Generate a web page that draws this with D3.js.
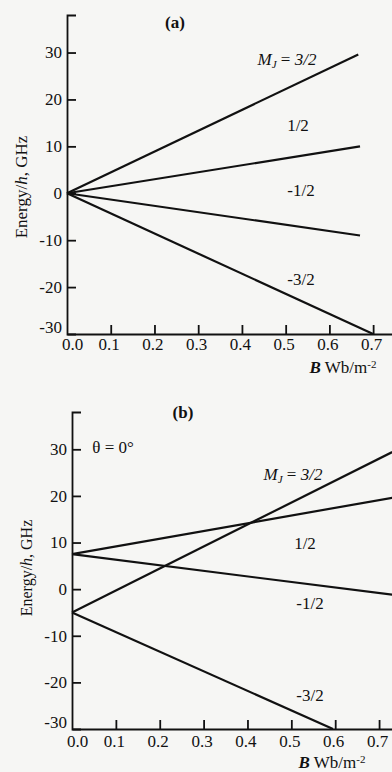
<!DOCTYPE html>
<html>
<head>
<meta charset="utf-8">
<title>Zeeman levels</title>
<style>
  body { margin: 0; background: #f6f6f4; }
  svg { display: block; }
  .axis path, .axis line { stroke: #111; stroke-width: 1.8; }
  .axis text { font-family: "Liberation Serif", serif; font-size: 17px; fill: #111; }
  .lbl { font-family: "Liberation Serif", serif; fill: #111; }
  .level { fill: none; stroke: #111; stroke-width: 2.2; }
</style>
</head>
<body>
<div id="chart"></div>
<script src="https://d3js.org/d3.v7.min.js"></script>
<script>
// tick values
var bTicks = [0.0, 0.1, 0.2, 0.3, 0.4, 0.5, 0.6, 0.7];
var eTicks = [30, 20, 10, 0, -10, -20, -30];
var mjNames = ["3/2", "1/2", "-1/2", "-3/2"];

// panel (a): energy levels, [B, E] end points per M_J
var levelsA = [
  [[0, 0], [0.666, 29.6]],
  [[0, 0], [0.67, 10]],
  [[0, 0], [0.67, -9]],
  [[0, 0], [0.7, -30]]
];

// panel (b): theta = 0
var levelsB = [
  [[0, -5], [0.73, 29.4]],
  [[0, 7.5], [0.73, 19.6]],
  [[0, 7.5], [0.73, -1.2]],
  [[0, -5], [0.595, -30]]
];

var W = 392, H = 772;
var svg = d3.select("#chart").append("svg")
    .attr("width", W).attr("height", H);

function panel(levels, x0, xEnd, yTop, yBot, opts) {
    var x = d3.scaleLinear().domain([0, 0.75]).range([x0, xEnd]);
    var y = d3.scaleLinear().domain([-30, 38]).range([yBot, yTop]);
    var g = svg.append("g");

    g.append("g").attr("class", "axis")
        .attr("transform", "translate(" + x0 + ",0)")
        .call(d3.axisLeft(y).tickValues(eTicks).tickSizeInner(-9).tickSizeOuter(-9).tickPadding(5)
            .tickFormat(d => String(d)))
        .attr("font-family", "Liberation Serif").attr("font-size", 17)
        .call(a => {
            var bot = a.selectAll(".tick").filter(d => d == -30);
            bot.select("line").remove();
            bot.select("text").attr("y", -7);
        });

    g.append("g").attr("class", "axis")
        .attr("transform", "translate(0," + yBot + ")")
        .call(d3.axisBottom(x).tickValues(bTicks).tickSizeInner(-9).tickSizeOuter(0).tickPadding(opts.xpad)
            .tickFormat(d3.format(".1f")))
        .attr("font-family", "Liberation Serif").attr("font-size", 17)
        .call(a => {
            var first = a.selectAll(".tick").filter(d => d == 0);
            first.select("line").remove();
            first.select("text").attr("x", 5);
            a.selectAll(".tick").filter(d => d > 0).select("text").attr("x", -2);
        });

    var line = d3.line().x(d => x(d[0])).y(d => y(d[1]));
    g.selectAll("path.level").data(levels).join("path")
        .attr("class", "level")
        .attr("d", line);

    // y label
    var yl = g.append("text").attr("class", "lbl")
        .attr("transform", "translate(" + opts.ylab[0] + "," + opts.ylab[1] + ") rotate(-90)")
        .attr("text-anchor", "middle").attr("dominant-baseline", "central")
        .style("font-size", opts.ylab[2] + "px");
    yl.append("tspan").text("Energy/");
    yl.append("tspan").style("font-style", "italic").text("h");
    yl.append("tspan").text(", GHz");

    // x label
    var xl = g.append("text").attr("class", "lbl")
        .attr("x", opts.xlab[0]).attr("y", opts.xlab[1])
        .attr("text-anchor", "middle")
        .style("font-size", "17px");
    xl.append("tspan").style("font-style", "italic").style("font-weight", "bold").text("B");
    xl.append("tspan").text("  Wb/m");
    xl.append("tspan").attr("dy", -5).style("font-size", "11px").text("-2");

    g.append("text").attr("class", "lbl")
        .attr("x", opts.tag[0]).attr("y", opts.tag[1])
        .attr("text-anchor", "middle").attr("dominant-baseline", "central")
        .style("font-size", "17px").style("font-weight", "bold").text(opts.tag[2]);

    // M_J labels
    opts.mj.forEach(function (p, i) {
        var t = g.append("text").attr("class", "lbl")
            .attr("x", p[0]).attr("y", p[1])
            .attr("text-anchor", "middle").attr("dominant-baseline", "central")
            .style("font-size", "17px");
        if (i == 0) {
            t.append("tspan").style("font-style", "italic").text("M");
            t.append("tspan").style("font-style", "italic").style("font-size", "11px")
                .attr("dy", 5).text("J");
            t.append("tspan").attr("dy", -5).text(" = ");
            t.append("tspan").style("font-style", "italic").text(mjNames[i]);
        } else {
            t.text(mjNames[i]);
        }
    });
    return g;
}

panel(levelsA, 67, 395, 15, 334, {
    ylab: [21, 187, 17], xlab: [343, 373], tag: [175, 22, "(a)"], xpad: 4,
    mj: [[287, 59], [298, 125], [301, 190], [301, 279]]
});

var gb = panel(levelsB, 72, 401, 412, 729, {
    ylab: [26, 568, 16], xlab: [332, 768], tag: [183, 412, "(b)"], xpad: 6,
    mj: [[293, 474], [305, 543], [310, 603], [310, 695]]
});

gb.append("text").attr("class", "lbl")
    .attr("x", 113).attr("y", 447)
    .attr("text-anchor", "middle").attr("dominant-baseline", "central")
    .style("font-size", "17px").text("θ = 0°");
</script>
</body>
</html>
